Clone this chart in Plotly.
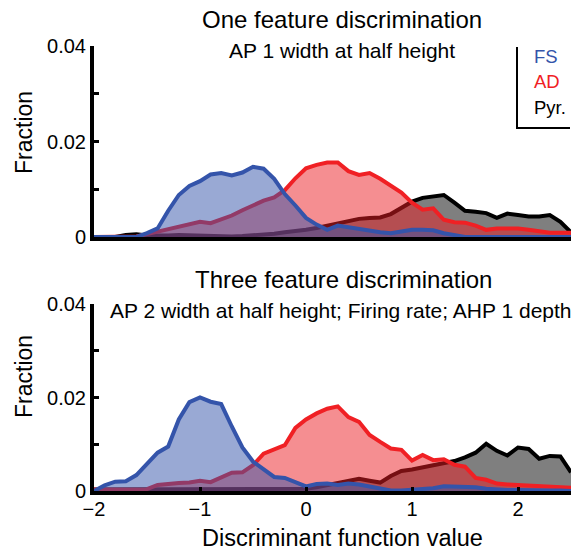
import plotly.graph_objects as go

x_vals = [round(-2.0 + 0.1 * i, 1) for i in range(46)]

# Top panel: one feature discrimination
top_fs = [0, 0, 0, 0, 0, 0.0008, 0.0018, 0.0055, 0.0088, 0.0107,
          0.0117, 0.0131, 0.0134, 0.0129, 0.0135, 0.0147, 0.0143, 0.0122, 0.0090, 0.0066,
          0.0040, 0.0026, 0.0015, 0.0024, 0.0020, 0.0017, 0.0012, 0.0010, 0.0008, 0.0011,
          0.0015, 0.0015, 0.0014, 0.0008, 0.0003, 0, 0, 0, 0, 0,
          0, 0, 0, 0, 0, 0]
top_ad = [0, 0, 0, 0, 0.0001, 0.0006, 0.0011, 0.0016, 0.0022, 0.0027,
          0.0032, 0.0029, 0.0036, 0.0045, 0.0056, 0.0066, 0.0076, 0.0083, 0.0098, 0.0123,
          0.0144, 0.0151, 0.0156, 0.0156, 0.0138, 0.0130, 0.0134, 0.0122, 0.0107, 0.0093,
          0.0072, 0.0057, 0.0060, 0.0036, 0.0031, 0.0030, 0.0024, 0.0015, 0.0018, 0.0018,
          0.0018, 0.0015, 0.0011, 0.0009, 0.0009, 0.0009]
top_pyr = [0, 0, 0, 0.0004, 0.0006, 0.0003, 0.0002, 0.0003, 0.0004, 0.0003,
           0.0002, 0.0002, 0.0001, 0.0001, 0.0002, 0.0003, 0.0005, 0.0007, 0.0010, 0.0012,
           0.0015, 0.0019, 0.0024, 0.0028, 0.0033, 0.0038, 0.0040, 0.0041, 0.0048, 0.0062,
           0.0074, 0.0082, 0.0086, 0.0088, 0.0072, 0.0055, 0.0053, 0.0050, 0.0040, 0.0049,
           0.0046, 0.0043, 0.0043, 0.0046, 0.0032, 0.0010]

# Bottom panel: three feature discrimination
bot_fs = [0, 0.0012, 0.0020, 0.0021, 0.0034, 0.0057, 0.0082, 0.0095, 0.0153, 0.0190,
          0.0200, 0.0191, 0.0186, 0.0138, 0.0093, 0.0063, 0.0046, 0.0030, 0.0028, 0.0020,
          0.0010, 0.0015, 0.0016, 0.0013, 0.0016, 0.0014, 0.0010, 0.0004, 0.0001, 0.0001,
          0.0002, 0.0003, 0.0006, 0.0010, 0.0010, 0.0010, 0.0008, 0.0005, 0.0003, 0.0002,
          0.0002, 0.0001, 0.0001, 0.0001, 0.0001, 0]
bot_ad = [0.0003, 0.0003, 0.0003, 0.0003, 0.0003, 0.0004, 0.0013, 0.0016, 0.0017, 0.0018,
          0.0022, 0.0019, 0.0028, 0.0039, 0.0040, 0.0055, 0.0080, 0.0089, 0.0098, 0.0135,
          0.0153, 0.0166, 0.0176, 0.0181, 0.0158, 0.0148, 0.0120, 0.0105, 0.0091, 0.0088,
          0.0065, 0.0077, 0.0066, 0.0068, 0.0056, 0.0052, 0.0028, 0.0024, 0.0016, 0.0014,
          0.0013, 0.0013, 0.0012, 0.0010, 0.0009, 0.0007]
bot_pyr = [0.0003, 0.0003, 0.0003, 0.0003, 0.0003, 0.0003, 0.0003, 0.0004, 0.0004, 0.0004,
           0.0004, 0.0004, 0.0004, 0.0004, 0.0004, 0.0004, 0.0004, 0.0004, 0.0004, 0.0004,
           0.0005, 0.0008, 0.0013, 0.0018, 0.0022, 0.0026, 0.0022, 0.0018, 0.0032, 0.0043,
           0.0046, 0.0051, 0.0056, 0.0061, 0.0064, 0.0072, 0.0082, 0.0101, 0.0086, 0.0076,
           0.0093, 0.0090, 0.0069, 0.0075, 0.0074, 0.0040]

x_tick_vals = [-2, -1, 0, 1, 2]
x_tick_text = ["\u22122", "\u22121", "0", "1", "2"]
y_tick_vals = [0, 0.01, 0.02, 0.03, 0.04]
y_tick_text = ["0", "", "0.02", "", "0.04"]

BLUE = "rgb(52,84,170)"
RED = "rgb(240,32,36)"
BLACK = "rgb(0,0,0)"
BLUE_F = "rgba(52,84,170,0.5)"
RED_F = "rgba(236,30,36,0.5)"
BLACK_F = "rgba(0,0,0,0.5)"

FONT = "Liberation Sans"

fig = go.Figure()
for ys, col, fcol in [(top_pyr, BLACK, BLACK_F), (top_ad, RED, RED_F), (top_fs, BLUE, BLUE_F)]:
    fig.add_trace(go.Scatter(x=x_vals, y=ys, mode="lines", fill="tozeroy",
                             line=dict(color=col, width=4), fillcolor=fcol,
                             xaxis="x", yaxis="y", showlegend=False))
for ys, col, fcol in [(bot_pyr, BLACK, BLACK_F), (bot_ad, RED, RED_F), (bot_fs, BLUE, BLUE_F)]:
    fig.add_trace(go.Scatter(x=x_vals, y=ys, mode="lines", fill="tozeroy",
                             line=dict(color=col, width=4), fillcolor=fcol,
                             xaxis="x2", yaxis="y2", showlegend=False))

W, H = 585, 553
ML, MR, MT, MB = 94, 14, 46, 62
PW = W - ML - MR
PH = H - MT - MB


def px(xp):
    return (xp - ML) / PW


def py(yp):
    return (H - MB - yp) / PH


axis_common = dict(showline=True, linecolor="black", linewidth=4, showgrid=False,
                   zeroline=False, ticks="inside", tickcolor="black", tickwidth=3,
                   ticklen=5, tickfont=dict(family=FONT, size=20, color="black"))

fig.update_layout(
    width=W, height=H,
    margin=dict(l=ML, r=MR, t=MT, b=MB),
    paper_bgcolor="white", plot_bgcolor="white",
    font=dict(family=FONT, color="black"),
    xaxis=dict(axis_common, range=[-2, 2.5], domain=[0, 1], anchor="y",
               tickvals=x_tick_vals, showticklabels=False, ticks=""),
    yaxis=dict(axis_common, range=[0, 0.04], domain=[py(237), 1], anchor="x",
               tickvals=y_tick_vals, ticktext=y_tick_text),
    xaxis2=dict(axis_common, range=[-2, 2.5], domain=[0, 1], anchor="y2",
                tickvals=x_tick_vals, ticktext=x_tick_text, ticklen=4,
                ticklabelstandoff=-3),
    yaxis2=dict(axis_common, range=[0, 0.04], domain=[0, py(304)], anchor="x2",
                tickvals=y_tick_vals, ticktext=y_tick_text),
)

ann = [
    ("One feature discrimination", 342, 20, 24, "black", "center", 0),
    ("AP 1 width at half height", 342, 50, 21, "black", "center", 0),
    ("Three feature discrimination", 343, 279, 24, "black", "center", 0),
    ("AP 2 width at half height; Firing rate; AHP 1 depth", 341, 310, 21, "black", "center", 0),
    ("Discriminant function value", 342, 538, 23.5, "black", "center", 0),
    ("Fraction", 24, 133, 23, "black", "center", -90),
    ("Fraction", 24, 377, 23, "black", "center", -90),
    ("FS", 532, 56.5, 18.5, BLUE, "left", 0),
    ("AD", 532, 82, 18.5, RED, "left", 0),
    ("Pyr.", 532, 107, 18.5, "black", "left", 0),
]
for text, xx, yy, size, col, xa, ang in ann:
    fig.add_annotation(text=text, x=px(xx), y=py(yy), xref="paper", yref="paper",
                       showarrow=False, xanchor=xa, yanchor="middle", textangle=ang,
                       font=dict(family=FONT, size=size, color=col))

fig.add_shape(type="line", xref="paper", yref="paper", x0=px(517), x1=px(517),
              y0=py(47), y1=py(128), line=dict(color="black", width=2))
fig.add_shape(type="line", xref="paper", yref="paper", x0=px(516), x1=px(570),
              y0=py(128), y1=py(128), line=dict(color="black", width=2))

fig.write_html("out.html")
